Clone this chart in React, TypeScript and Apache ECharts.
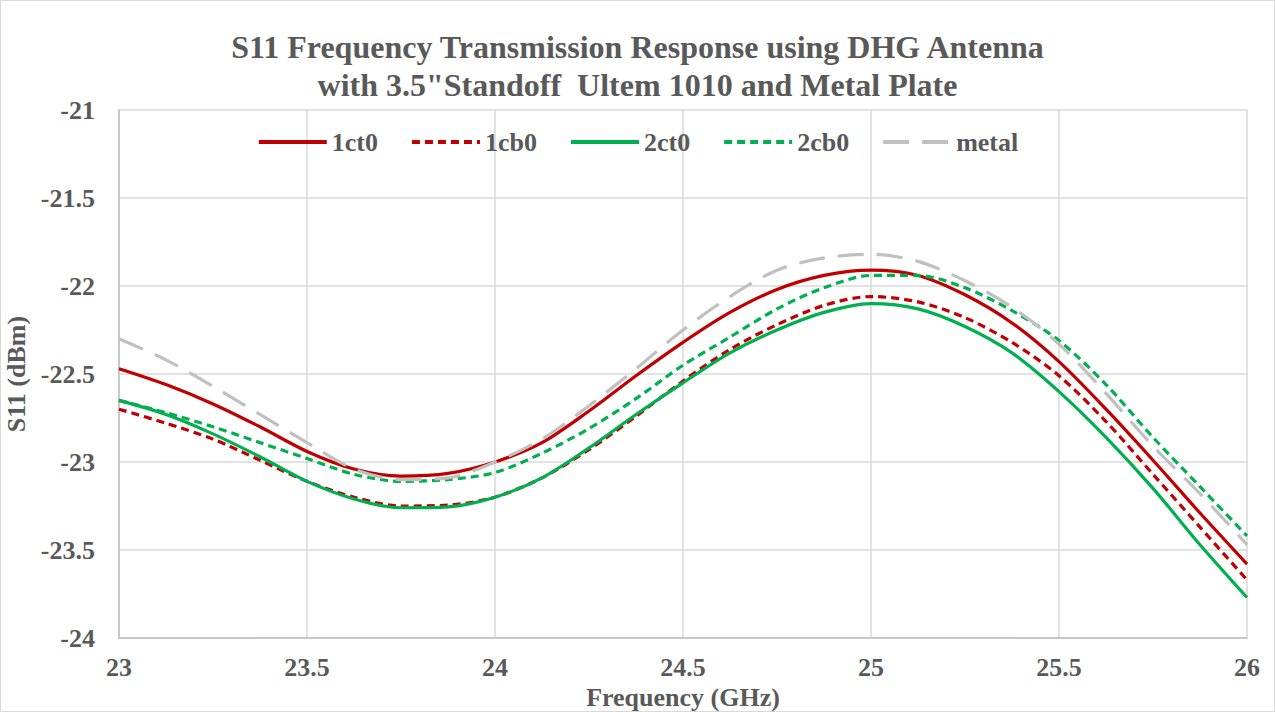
import React, { useEffect, useRef } from "react";
import * as echarts from "echarts";

const freqs = [23, 23.125, 23.25, 23.375, 23.5, 23.625, 23.75, 23.875, 24, 24.125, 24.25, 24.375, 24.5, 24.625, 24.75, 24.875, 25, 25.125, 25.25, 25.375, 25.5, 25.625, 25.75, 25.875, 26];
const s1ct0 = [-22.47, -22.56, -22.67, -22.80, -22.94, -23.04, -23.08, -23.065, -23.00, -22.89, -22.71, -22.51, -22.32, -22.15, -22.02, -21.94, -21.91, -21.94, -22.05, -22.21, -22.43, -22.70, -22.99, -23.29, -23.58];
const s1cb0 = [-22.70, -22.78, -22.87, -22.99, -23.11, -23.20, -23.25, -23.245, -23.20, -23.09, -22.93, -22.74, -22.54, -22.36, -22.22, -22.11, -22.06, -22.09, -22.18, -22.32, -22.51, -22.77, -23.07, -23.37, -23.67];
const s2ct0 = [-22.65, -22.73, -22.84, -22.97, -23.11, -23.21, -23.26, -23.255, -23.20, -23.09, -22.92, -22.73, -22.55, -22.38, -22.25, -22.15, -22.10, -22.13, -22.23, -22.38, -22.60, -22.86, -23.15, -23.47, -23.77];
const s2cb0 = [-22.65, -22.72, -22.80, -22.89, -22.98, -23.07, -23.11, -23.10, -23.06, -22.95, -22.81, -22.64, -22.45, -22.29, -22.13, -22.01, -21.94, -21.94, -22.01, -22.14, -22.31, -22.56, -22.86, -23.14, -23.42];
const metal = [-22.30, -22.42, -22.57, -22.73, -22.89, -23.04, -23.10, -23.09, -23.00, -22.87, -22.68, -22.47, -22.25, -22.06, -21.91, -21.84, -21.82, -21.86, -21.97, -22.12, -22.33, -22.61, -22.91, -23.18, -23.47];

const titleText = "S11 Frequency Transmission Response using DHG Antenna\nwith 3.5\"Standoff  Ultem 1010 and Metal Plate";
const seriesNames = ["1ct0", "1cb0", "2ct0", "2cb0", "metal"];

const FONT = "Liberation Serif";
const GREY = "#595959";

function pairs(ys: number[]) {
  return freqs.map((x, i) => [x, ys[i]]);
}

export default function App() {
  const ref = useRef<HTMLDivElement>(null);
  useEffect(() => {
    document.body.style.margin = "0";
    const chart = echarts.init(ref.current!, null, { renderer: "svg" });
    const mk = (name: string, data: number[], color: string, type: any) => ({
      name,
      type: "line",
      data: pairs(data),
      smooth: 0.3,
      showSymbol: false,
      symbol: "none",
      lineStyle: { color, width: 3.2, type, cap: "butt" },
      itemStyle: { color },
    });
    chart.setOption({
      animation: false,
      backgroundColor: "#ffffff",
      title: {
        text: titleText,
        left: "center",
        top: 23,
        textStyle: { fontFamily: FONT, fontWeight: "bold", fontSize: 32, color: GREY, lineHeight: 38 },
      },
      legend: {
        top: 124,
        left: "center",
        itemWidth: 68,
        itemHeight: 14,
        itemGap: 32,
        itemStyle: { opacity: 0 },
        lineStyle: { width: 4 },
        textStyle: { fontFamily: FONT, fontWeight: "bold", fontSize: 26, color: GREY },
        data: seriesNames,
      },
      grid: { left: 119, right: 28, top: 110, bottom: 74, containLabel: false, outerBoundsMode: "none" },
      xAxis: {
        type: "value",
        min: 23,
        max: 26,
        interval: 0.5,
        name: "Frequency (GHz)",
        nameLocation: "middle",
        nameGap: 37,
        nameTextStyle: { fontFamily: FONT, fontWeight: "bold", fontSize: 26, color: GREY },
        axisLine: { show: true, lineStyle: { color: "#bfbfbf", width: 1.5 } },
        axisTick: { show: false },
        axisLabel: { fontFamily: FONT, fontWeight: "bold", fontSize: 26, color: GREY, margin: 16 },
        splitLine: { show: true, lineStyle: { color: "#d9d9d9", width: 1.5 } },
      },
      yAxis: {
        type: "value",
        min: -24,
        max: -21,
        interval: 0.5,
        name: "S11 (dBm)",
        nameLocation: "middle",
        nameGap: 84,
        nameTextStyle: { fontFamily: FONT, fontWeight: "bold", fontSize: 26, color: GREY },
        axisLine: { show: true, lineStyle: { color: "#bfbfbf", width: 1.5 } },
        axisTick: { show: false },
        axisLabel: { fontFamily: FONT, fontWeight: "bold", fontSize: 26, color: GREY, margin: 24 },
        splitLine: { show: true, lineStyle: { color: "#d9d9d9", width: 1.5 } },
      },
      graphic: [
        {
          type: "rect",
          shape: { x: 0.5, y: 0.5, width: 1274, height: 711 },
          style: { fill: "none", stroke: "#d9d9d9", lineWidth: 1 },
          silent: true,
        },
      ],
      series: [
        mk("1ct0", s1ct0, "#C00000", "solid"),
        mk("1cb0", s1cb0, "#C00000", [8, 5]),
        mk("2ct0", s2ct0, "#00B050", "solid"),
        mk("2cb0", s2cb0, "#00B050", [8, 5]),
        mk("metal", metal, "#C0C0C0", [26, 13]),
      ],
    });
    return () => chart.dispose();
  }, []);
  return <div ref={ref} style={{ width: 1275, height: 712 }} />;
}
